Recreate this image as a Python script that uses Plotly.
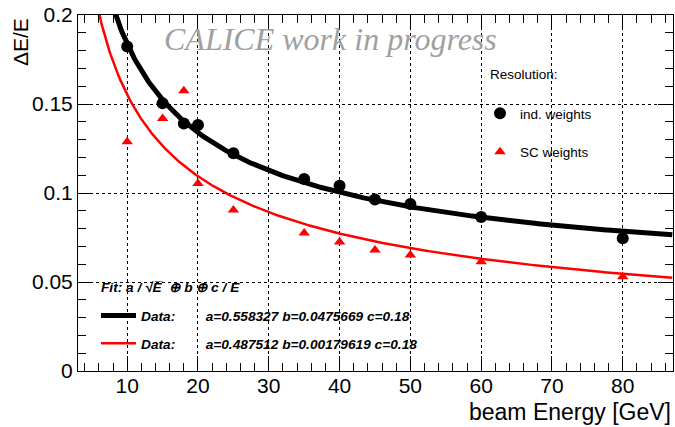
import numpy as np
import plotly.graph_objects as go

# ---------------- data ----------------
energy = [10, 15, 18, 20, 25, 35, 40, 45, 50, 60, 80]
res_ind = [0.1823, 0.1504, 0.1391, 0.1382, 0.1223, 0.1079, 0.1041, 0.0964, 0.0938, 0.0865, 0.0746]
res_sc = [0.1288, 0.1419, 0.1575, 0.1054, 0.0904, 0.0775, 0.0725, 0.0680, 0.0652, 0.0614, 0.0530]

fit_ind = dict(a=0.558327, b=0.0475669, c=0.18)
fit_sc = dict(a=0.487512, b=0.00179619, c=0.18)

x_ticks = [10, 20, 30, 40, 50, 60, 70, 80]
y_ticks = [0, 0.05, 0.1, 0.15, 0.2]

# ---------------- layout helpers ----------------
W, H = 675, 427
L, R, T, B = 78, 2, 15, 56
PW, PH = W - L - R, H - T - B


def px(x):
    return (x - L) / PW


def py(y):
    return (H - B - y) / PH


def fitfun(E, p):
    E = np.asarray(E, dtype=float)
    return np.sqrt(p["a"] ** 2 / E + p["b"] ** 2 + p["c"] ** 2 / E ** 2)


E_curve = np.linspace(4, 87, 500)

FONT = "Liberation Sans, Arial, Helvetica, sans-serif"
LEG = 13.7

fig = go.Figure()

fig.add_trace(go.Scatter(
    x=E_curve, y=fitfun(E_curve, fit_ind), mode="lines",
    line=dict(color="black", width=5),
    name="<b><i>Data:" + "\u00a0" * 8 + "a=%g b=%g c=%g</i></b>" % (fit_ind["a"], fit_ind["b"], fit_ind["c"]),
    legend="legend2", legendgroup="f1"))
fig.add_trace(go.Scatter(
    x=E_curve, y=fitfun(E_curve, fit_sc), mode="lines",
    line=dict(color="#ff0000", width=2.5),
    name="<b><i>Data:" + "\u00a0" * 8 + "a=%g b=%g c=%g</i></b>" % (fit_sc["a"], fit_sc["b"], fit_sc["c"]),
    legend="legend2", legendgroup="f2"))

fig.add_trace(go.Scatter(
    x=energy, y=res_ind, mode="markers",
    marker=dict(symbol="circle", color="black", size=12),
    name="ind. weights", legend="legend", legendgroup="m1"))
fig.add_trace(go.Scatter(
    x=energy, y=res_sc, mode="markers",
    marker=dict(symbol="triangle-up", color="#ff0000", size=10),
    name="SC weights", legend="legend", legendgroup="m2"))

axis_common = dict(
    showline=True, linecolor="black", linewidth=1, mirror="ticks",
    ticks="inside", ticklen=15, tickcolor="black", tickwidth=1,
    showgrid=True, gridcolor="black", griddash="dot", gridwidth=1,
    zeroline=False,
    tickfont=dict(family=FONT, size=21, color="black"),
)

fig.update_layout(
    width=W, height=H,
    margin=dict(l=L, r=R, t=T, b=B),
    paper_bgcolor="white", plot_bgcolor="white",
    font=dict(family=FONT, color="black"),
    xaxis=dict(range=[3.05, 87.1], tickvals=x_ticks, ticklabelstandoff=-4, **axis_common,
               minor=dict(dtick=2, tick0=0, ticks="inside", ticklen=8, tickcolor="black", showgrid=False)),
    yaxis=dict(range=[0, 0.2], tickvals=y_ticks, ticktext=["0", "0.05", "0.1", "0.15", "0.2"],
               ticklabelstandoff=0, **axis_common,
               minor=dict(dtick=0.01, tick0=0, ticks="inside", ticklen=8, tickcolor="black", showgrid=False)),
    legend=dict(x=px(480), y=py(98), xanchor="left", yanchor="top",
                bgcolor="rgba(0,0,0,0)", borderwidth=0,
                font=dict(family=FONT, size=13.5, color="black"),
                tracegroupgap=18, itemsizing="trace"),
    legend2=dict(x=px(96), y=py(300), xanchor="left", yanchor="top",
                 bgcolor="rgba(0,0,0,0)", borderwidth=0,
                 font=dict(family=FONT, size=LEG, color="black"),
                 tracegroupgap=7, itemsizing="trace", itemwidth=35),
    showlegend=True,
)

fig.add_annotation(text="<i>CALICE work in progress</i>", xref="paper", yref="paper",
                   x=px(330), y=py(39), xanchor="center", yanchor="middle", showarrow=False,
                   font=dict(family="Liberation Serif, Times New Roman, serif", size=32, color="#a0a0a0"))
fig.add_annotation(text="Resolution:", xref="paper", yref="paper",
                   x=px(488), y=py(75), xanchor="left", yanchor="middle", showarrow=False,
                   font=dict(family=FONT, size=13.5, color="black"))
fig.add_annotation(text="<b><i>Fit: a / \u221aE\u0305 \u00a0\u2295 b \u2295 c / E</i></b>",
                   xref="paper", yref="paper",
                   x=px(99), y=py(287), xanchor="left", yanchor="middle", showarrow=False,
                   font=dict(family=FONT, size=LEG, color="black"))
fig.add_annotation(text="beam Energy [GeV]", xref="paper", yref="paper",
                   x=px(673), y=py(412), xanchor="right", yanchor="middle", showarrow=False,
                   font=dict(family=FONT, size=23, color="black"))
fig.add_annotation(text="\u0394E/E", xref="paper", yref="paper", textangle=-90,
                   x=px(21), y=py(16), xanchor="center", yanchor="top", showarrow=False,
                   font=dict(family=FONT, size=21, color="black"))

fig.write_html("out.html")
